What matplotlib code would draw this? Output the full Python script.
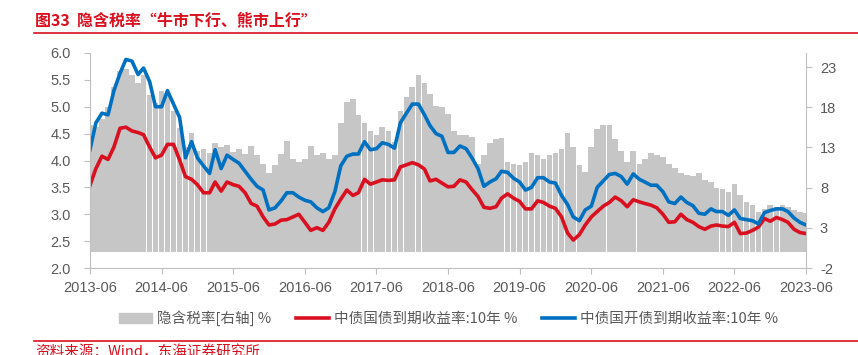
import matplotlib
matplotlib.use("Agg")
import matplotlib.pyplot as plt
from matplotlib.patches import Patch
from matplotlib.lines import Line2D
import pandas as pd

plt.rcParams['font.family'] = ['Liberation Sans', 'Noto Sans CJK SC', 'DejaVu Sans']
plt.rcParams['axes.unicode_minus'] = False

# monthly readings, 2013-06 .. 2023-06
months = pd.date_range('2013-06-01', '2023-06-01', freq='MS')

cdb_10y = [4.20, 4.70, 4.88, 4.85, 5.30, 5.62, 5.88, 5.85, 5.60, 5.72,
           5.47, 5.00, 5.00, 5.30, 5.05, 4.80, 4.05, 4.35, 4.05, 3.90,
           3.76, 4.20, 3.85, 4.10, 4.02, 3.95, 3.80, 3.65, 3.52, 3.45,
           3.08, 3.12, 3.25, 3.40, 3.40, 3.32, 3.26, 3.23, 3.12, 3.05,
           3.12, 3.42, 3.90, 4.08, 4.12, 4.12, 4.35, 4.20, 4.22, 4.33,
           4.30, 4.23, 4.70, 4.88, 5.05, 5.05, 4.85, 4.65, 4.50, 4.45,
           4.15, 4.15, 4.27, 4.22, 4.05, 3.85, 3.52, 3.60, 3.66, 3.80,
           3.78, 3.67, 3.60, 3.45, 3.50, 3.68, 3.68, 3.60, 3.58, 3.35,
           3.18, 2.95, 2.88, 3.08, 3.15, 3.50, 3.62, 3.74, 3.76, 3.70,
           3.56, 3.75, 3.65, 3.60, 3.54, 3.54, 3.42, 3.23, 3.20, 3.32,
           3.22, 3.16, 3.02, 3.00, 3.10, 3.05, 3.05, 2.98, 3.08, 2.92,
           2.90, 2.88, 2.82, 3.03, 3.07, 3.10, 3.10, 3.05, 2.93, 2.85,
           2.80]

gov_10y = [3.54, 3.85, 4.08, 4.02, 4.25, 4.60, 4.62, 4.55, 4.52, 4.48,
           4.25, 4.05, 4.10, 4.30, 4.30, 4.01, 3.70, 3.65, 3.55, 3.40,
           3.40, 3.60, 3.43, 3.60, 3.55, 3.52, 3.40, 3.20, 3.15, 2.95,
           2.80, 2.82, 2.89, 2.90, 2.95, 3.00, 2.85, 2.70, 2.75, 2.70,
           2.85, 3.10, 3.28, 3.45, 3.35, 3.40, 3.65, 3.56, 3.60, 3.64,
           3.63, 3.64, 3.88, 3.92, 3.96, 3.92, 3.84, 3.62, 3.65, 3.58,
           3.51, 3.52, 3.64, 3.60, 3.46, 3.33, 3.13, 3.11, 3.14, 3.30,
           3.38, 3.30, 3.24, 3.10, 3.10, 3.25, 3.22, 3.15, 3.11, 2.95,
           2.65, 2.52, 2.62, 2.80, 2.95, 3.05, 3.15, 3.22, 3.32, 3.25,
           3.14, 3.27, 3.23, 3.20, 3.17, 3.12, 3.00, 2.85, 2.86, 3.00,
           2.90, 2.85, 2.77, 2.72, 2.78, 2.80, 2.78, 2.77, 2.85, 2.64,
           2.65, 2.70, 2.76, 2.92, 2.87, 2.94, 2.90, 2.85, 2.72, 2.66,
           2.64]

tax_rate = [15.8, 15.5, 16.5, 18.0, 20.5, 22.5, 22.8, 22.0, 21.0, 22.0,
            19.5, 18.5, 20.0, 19.5, 17.5, 15.4, 13.0, 14.8, 12.5, 12.8,
            12.3, 13.5, 13.0, 13.3, 12.4, 12.8, 12.2, 13.2, 12.0, 11.0,
            9.8, 10.8, 12.2, 13.8, 11.5, 11.2, 11.5, 13.2, 12.0, 12.3,
            11.5, 12.0, 16.0, 18.6, 19.0, 17.0, 16.0, 15.0, 14.5, 15.6,
            15.0, 13.7, 17.5, 19.3, 20.5, 22.0, 21.0, 19.7, 18.1, 18.0,
            17.2, 15.0, 14.5, 14.5, 14.3, 11.0, 12.0, 13.5, 14.0, 14.2,
            11.2, 11.0, 10.8, 11.2, 12.3, 12.0, 11.5, 12.0, 12.3, 12.8,
            14.8, 13.0, 10.8, 10.0, 13.0, 15.3, 15.8, 15.8, 14.1, 12.5,
            11.2, 12.5, 11.0, 11.5, 12.3, 12.0, 11.8, 11.0, 10.5, 9.8,
            9.6, 9.5, 9.8, 9.0, 8.7, 8.0, 7.8, 7.5, 8.4, 7.1,
            6.2, 5.8, 5.0, 5.3, 5.8, 5.6, 5.8, 5.6, 5.2, 5.0,
            4.8]

left_ticks = [2.0, 2.5, 3.0, 3.5, 4.0, 4.5, 5.0, 5.5, 6.0]
right_ticks = [-2, 3, 8, 13, 18, 23]
x_ticks = pd.date_range('2013-06-01', '2023-06-01', freq='12MS')

RED = '#d9101f'
BLUE = '#0070c0'
GRAY = '#c6c6c6'
TXT = '#595959'
AXC = '#bfbfbf'

fig = plt.figure(figsize=(8.58, 3.55), dpi=100)
ax = fig.add_axes([90 / 858, 87 / 355, 716 / 858, 215 / 355])
ax2 = ax.twinx()

ax2.bar(months, tax_rate, width=29, color=GRAY, linewidth=0)
ax.plot(months, gov_10y, color=RED, lw=2.6)
ax.plot(months, cdb_10y, color=BLUE, lw=2.6)

# lines above bars
ax.set_zorder(ax2.get_zorder() + 1)
ax.patch.set_visible(False)

ax.set_xlim(months[0], months[-1])
ax.set_ylim(2.0, 6.0)
ax2.set_ylim(-2, 24.75)
ax.set_yticks(left_ticks)
ax.set_yticklabels([f'{v:.1f}' for v in left_ticks])
ax2.set_yticks(right_ticks)
ax.set_xticks(x_ticks)
ax.set_xticklabels([d.strftime('%Y-%m') for d in x_ticks])

for a in (ax, ax2):
    for s in a.spines.values():
        s.set_color(AXC)
    a.spines['top'].set_visible(False)
ax.spines['right'].set_visible(False)
ax2.spines['left'].set_visible(False)
ax2.spines['bottom'].set_visible(False)

ax.tick_params(axis='y', colors=AXC, labelcolor=TXT, labelsize=10.5, length=4, pad=10)
ax.tick_params(axis='x', colors=AXC, labelcolor=TXT, labelsize=10.5, length=4, pad=5)
ax2.tick_params(axis='y', colors=AXC, labelcolor=TXT, labelsize=10.5, length=4, pad=6)

handles = [Patch(color=GRAY), Line2D([], [], color=RED, lw=2.6), Line2D([], [], color=BLUE, lw=2.6)]
labels = ['隐含税率[右轴] %', '中债国债到期收益率:10年 %', '中债国开债到期收益率:10年 %']
fig.legend(handles, labels, loc='center', bbox_to_anchor=(0.5225, 0.104), ncol=3,
           frameon=False, labelcolor=TXT, handlelength=2.3,
           handletextpad=0.3, columnspacing=1.7, prop={'family': ['Noto Sans CJK SC', 'DejaVu Sans'], 'size': 10.5})

fig.text(35 / 858, 1 - 20 / 355, '图33  隐含税率“牛市下行、熊市上行”', color=RED, fontsize=11.5,
         fontweight='bold', family=['Noto Sans CJK SC', 'DejaVu Sans'], va='center', ha='left')
fig.add_artist(Line2D([34 / 858, 1], [1 - 33 / 355] * 2, color=RED, lw=1.2))
fig.add_artist(Line2D([34 / 858, 1], [1 - 341 / 355] * 2, color=RED, lw=1.2))
fig.text(35 / 858, 1 - 345 / 355, '资料来源：Wind，东海证券研究所', color=RED, fontsize=10.5,
         family=['Noto Sans CJK SC', 'DejaVu Sans'], va='top', ha='left')

fig.savefig('out.png', dpi=100)
